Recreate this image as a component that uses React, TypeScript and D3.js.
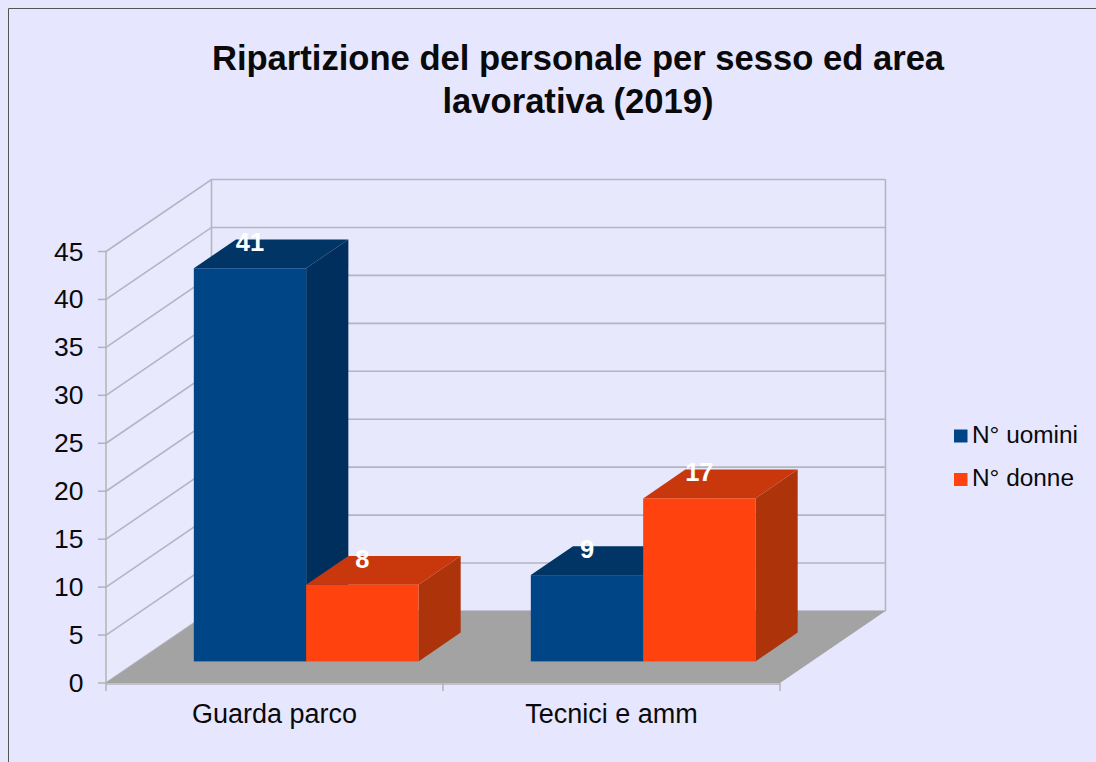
import React, { useEffect, useRef } from "react";
import * as d3 from "d3";

const categories = ["Guarda parco", "Tecnici e amm"];
const seriesNames = ["N° uomini", "N° donne"];
const uomini = [41, 9];
const donne = [8, 17];
const yTicks = [0, 5, 10, 15, 20, 25, 30, 35, 40, 45];
const titleLines = ["Ripartizione del personale per sesso ed area", "lavorativa (2019)"];

const colors = ["#004586", "#ff420e"];
const topColors = ["#003566", "#c9380d"];
const sideColors = ["#002f5e", "#ad330a"];

const FONT = "'Liberation Sans', Arial, sans-serif";
const TEXT = "#0a0a0a";
const width = 1096;
const height = 762;

const App = () => {
  const ref = useRef<SVGSVGElement>(null);

  useEffect(() => {
    const svg = d3.select(ref.current);
    svg.selectAll("*").remove();

    const x0 = d3.scaleBand().domain(categories).range([106, 780]);
    const y = d3.scaleLinear().domain([0, 45]).range([683, 251.5]);
    // depth 0 = front of the floor, 1 = back wall
    const depthX = d3.scaleLinear().domain([0, 1]).range([0, 105.5]);
    const depthY = d3.scaleLinear().domain([0, 1]).range([0, -72]);
    const barFront = 0.3;
    const barBack = 0.7;

    const pts = (p: number[][]) => p.map((d) => d.join(",")).join(" ");

    svg.append("rect").attr("width", width).attr("height", height).attr("fill", "#e6e6ff");
    svg.append("path").attr("d", `M8.5,${height}V8.5H${width}`).attr("fill", "none").attr("stroke", "#555").attr("stroke-width", 1);

    const xl = 106;
    const xr = 780;
    const grid = "#b4b4c2";

    // walls
    svg.append("polygon")
      .attr("points", pts([[xl, y(0)], [xl, y(45)], [xl + depthX(1), y(45) + depthY(1)], [xl + depthX(1), y(0) + depthY(1)]]))
      .attr("fill", "#e9e9fd");
    svg.append("rect")
      .attr("x", xl + depthX(1)).attr("y", y(45) + depthY(1))
      .attr("width", xr - xl).attr("height", y(0) - y(45))
      .attr("fill", "#e8e8fd");

    const gridG = svg.append("g").attr("stroke", grid).attr("stroke-width", 1.6).attr("fill", "none");
    yTicks.forEach((t) => {
      gridG.append("polyline").attr("points", pts([
        [xl, y(t)],
        [xl + depthX(1), y(t) + depthY(1)],
        [xr + depthX(1), y(t) + depthY(1)],
      ]));
    });
    gridG.append("line").attr("x1", xl + depthX(1)).attr("x2", xl + depthX(1)).attr("y1", y(45) + depthY(1)).attr("y2", y(0) + depthY(1));
    gridG.append("line").attr("x1", xr + depthX(1)).attr("x2", xr + depthX(1)).attr("y1", y(45) + depthY(1)).attr("y2", y(0) + depthY(1));

    // floor
    svg.append("polygon")
      .attr("points", pts([[xl, y(0)], [xr, y(0)], [xr + depthX(1), y(0) + depthY(1)], [xl + depthX(1), y(0) + depthY(1)]]))
      .attr("fill", "#a3a3a3");

    // axes
    const axisG = svg.append("g").attr("stroke", "#b3b3b3").attr("stroke-width", 1.5).attr("fill", "none");
    axisG.append("line").attr("x1", xl).attr("x2", xl).attr("y1", y(45)).attr("y2", y(0));
    axisG.append("line").attr("x1", xl).attr("x2", xr).attr("y1", y(0) + 1).attr("y2", y(0) + 1);
    yTicks.forEach((t) => {
      axisG.append("line").attr("x1", xl - 8).attr("x2", xl).attr("y1", y(t)).attr("y2", y(t));
    });
    [...categories.map((c) => x0(c) as number), xr].forEach((v) => {
      axisG.append("line").attr("x1", v).attr("x2", v).attr("y1", y(0)).attr("y2", y(0) + 8);
    });

    svg.append("g").selectAll("text").data(yTicks).enter().append("text")
      .attr("x", 83.5).attr("y", (d) => y(d) + 9)
      .attr("text-anchor", "end")
      .attr("font-family", FONT).attr("font-size", 26.5).attr("fill", TEXT)
      .text((d) => d);

    svg.append("g").selectAll("text").data(categories).enter().append("text")
      .attr("x", (d) => (x0(d) as number) + x0.bandwidth() / 2).attr("y", 723)
      .attr("text-anchor", "middle")
      .attr("font-family", FONT).attr("font-size", 27).attr("fill", TEXT)
      .text((d) => d);

    // bars, drawn series by series inside each group
    const values = [uomini, donne];
    const groupInset = x0.bandwidth() / 6;
    const labels: { x: number; y: number; v: number }[] = [];
    categories.forEach((cat, ci) => {
      const x1 = d3.scaleBand().domain(seriesNames)
        .range([(x0(cat) as number) + groupInset, (x0(cat) as number) + x0.bandwidth() - groupInset]);
      seriesNames.forEach((name, si) => {
        const v = values[si][ci];
        const fx = (x1(name) as number) + depthX(barFront);
        const fw = x1.bandwidth();
        const base = y(0) + depthY(barFront);
        const top = y(v) + depthY(barFront);
        const ddx = depthX(barBack) - depthX(barFront);
        const ddy = depthY(barBack) - depthY(barFront);
        const g = svg.append("g");
        g.append("polygon").attr("fill", sideColors[si]).attr("points", pts([
          [fx + fw, base], [fx + fw, top], [fx + fw + ddx, top + ddy], [fx + fw + ddx, base + ddy],
        ]));
        g.append("polygon").attr("fill", topColors[si]).attr("points", pts([
          [fx, top], [fx + fw, top], [fx + fw + ddx, top + ddy], [fx + ddx, top + ddy],
        ]));
        g.append("rect").attr("x", fx).attr("y", top).attr("width", fw).attr("height", base - top).attr("fill", colors[si]);
        labels.push({ x: fx + fw / 2, y: top - 17, v });
      });
    });

    svg.append("g").selectAll("text").data(labels).enter().append("text")
      .attr("x", (d) => d.x).attr("y", (d) => d.y)
      .attr("text-anchor", "middle")
      .attr("font-family", FONT).attr("font-size", 25.5).attr("font-weight", "bold").attr("fill", "#fff")
      .text((d) => d.v);

    // title
    svg.append("g").selectAll("text").data(titleLines).enter().append("text")
      .attr("x", 578).attr("y", (d, i) => 69.5 + i * 43)
      .attr("text-anchor", "middle")
      .attr("font-family", FONT).attr("font-size", 34.6).attr("font-weight", "bold").attr("fill", TEXT)
      .text((d) => d);

    // legend
    const legend = svg.append("g").selectAll("g").data(seriesNames).enter().append("g")
      .attr("transform", (d, i) => `translate(954, ${429.5 + i * 43.5})`);
    legend.append("rect").attr("width", 13.5).attr("height", 13).attr("fill", (d, i) => colors[i]);
    legend.append("text").attr("x", 18).attr("y", 13.2)
      .attr("font-family", FONT).attr("font-size", 24.4).attr("fill", TEXT)
      .text((d) => d);
  }, []);

  return (
    <svg
      ref={ref}
      width={width}
      height={height}
      style={{ position: "absolute", left: 0, top: 0, display: "block" }}
    />
  );
};

export default App;
